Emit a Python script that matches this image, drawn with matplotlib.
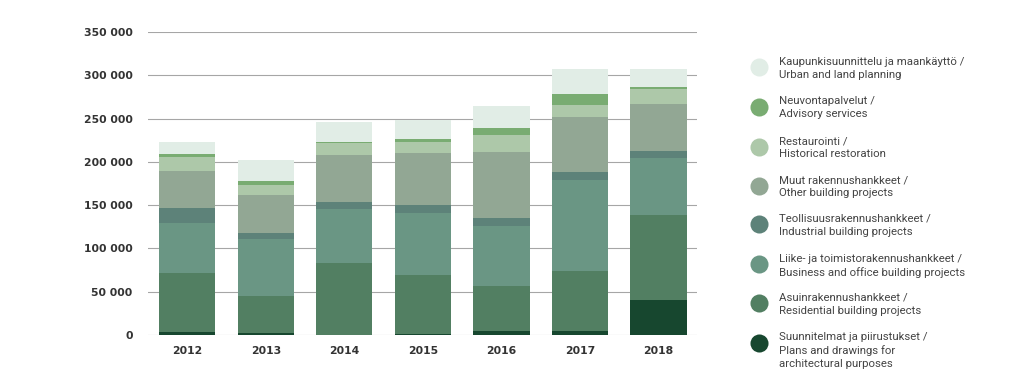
import matplotlib
matplotlib.use("Agg")
import matplotlib.pyplot as plt
from matplotlib.lines import Line2D
from matplotlib import font_manager as fm
import numpy as np

years = ["2012", "2013", "2014", "2015", "2016", "2017", "2018"]

suunnitelmat = [3500, 2300, 0, 1500, 5000, 4200, 40000]
asuin = [67700, 43100, 83500, 68100, 51900, 70100, 98600]
liike = [58500, 65500, 62000, 71300, 68500, 104200, 65400]
teollisuus = [17300, 7300, 8100, 9600, 10100, 9700, 8500]
muut = [42400, 43100, 53900, 59700, 76200, 63100, 53800]
restaurointi = [16500, 11500, 14200, 12200, 19900, 14700, 17300]
neuvonta = [3100, 5400, 1500, 3900, 7000, 12600, 3000]
kaupunki = [13500, 23900, 22400, 22300, 26200, 28200, 20100]

series_labels = [
    "Suunnitelmat ja piirustukset /\nPlans and drawings for\narchitectural purposes",
    "Asuinrakennushankkeet /\nResidential building projects",
    "Liike- ja toimistorakennushankkeet /\nBusiness and office building projects",
    "Teollisuusrakennushankkeet /\nIndustrial building projects",
    "Muut rakennushankkeet /\nOther building projects",
    "Restaurointi /\nHistorical restoration",
    "Neuvontapalvelut /\nAdvisory services",
    "Kaupunkisuunnittelu ja maankäyttö /\nUrban and land planning",
]
series = [suunnitelmat, asuin, liike, teollisuus, muut, restaurointi, neuvonta, kaupunki]
colors = ["#17472f", "#527f62", "#6a9684", "#5d8279", "#92a794", "#adc8a9", "#79ac72", "#e1ede6"]

yticks = [0, 50000, 100000, 150000, 200000, 250000, 300000, 350000]
ytick_labels = ["0", "50 000", "100 000", "150 000", "200 000", "250 000", "300 000", "350 000"]

# pick the regular (non-condensed) Roboto face explicitly
legend_font = fm.FontProperties(family="Roboto", size=8.2)
for f in fm.fontManager.ttflist:
    if (f.name == "Roboto" and f.style == "normal" and f.weight in (400, "normal", "regular")
            and f.stretch in ("normal", 500)):
        legend_font = fm.FontProperties(fname=f.fname, size=8.2)
        break

fig = plt.figure(figsize=(10.24, 3.79), dpi=100)
ax = fig.add_axes([148/1024, 1-335/379, (697-148)/1024, (335-32)/379])

x = np.arange(len(years))
bottom = np.zeros(len(years))
for vals, col in zip(series, colors):
    ax.bar(x, vals, width=0.716, bottom=bottom, color=col, zorder=3, linewidth=0)
    bottom += np.array(vals)

ax.set_xlim(-0.5, 6.49)
ax.set_ylim(0, 350000)
ax.set_yticks(yticks)
ax.set_yticklabels(ytick_labels)
ax.set_xticks(x)
ax.set_xticklabels(years)
ax.grid(axis="y", color="#a6a6a6", linewidth=0.8, zorder=0)
for s in ax.spines.values():
    s.set_visible(False)
ax.tick_params(axis="both", length=0, labelsize=7.8, colors="#333333")
ax.tick_params(axis="y", pad=11)
ax.tick_params(axis="x", pad=8)
for lab in ax.get_xticklabels() + ax.get_yticklabels():
    lab.set_fontweight("bold")
    lab.set_color("#333333")

# legend (top to bottom: reversed stacking order)
circle_y = [67.3, 106.7, 146.7, 186, 224.3, 264.3, 303.3, 342.7]
for i, (lab, col) in enumerate(zip(series_labels[::-1], colors[::-1])):
    cy = circle_y[i]
    fig.add_artist(Line2D([759.3/1024], [1-cy/379], marker="o", markersize=13,
                          color=col, markeredgewidth=0, linestyle="none",
                          transform=fig.transFigure))
    fig.text(779/1024, 1-(cy-10.5)/379, lab, fontproperties=legend_font, color="#444444",
             va="top", ha="left", linespacing=1.36)

fig.savefig("out.png", dpi=100)
